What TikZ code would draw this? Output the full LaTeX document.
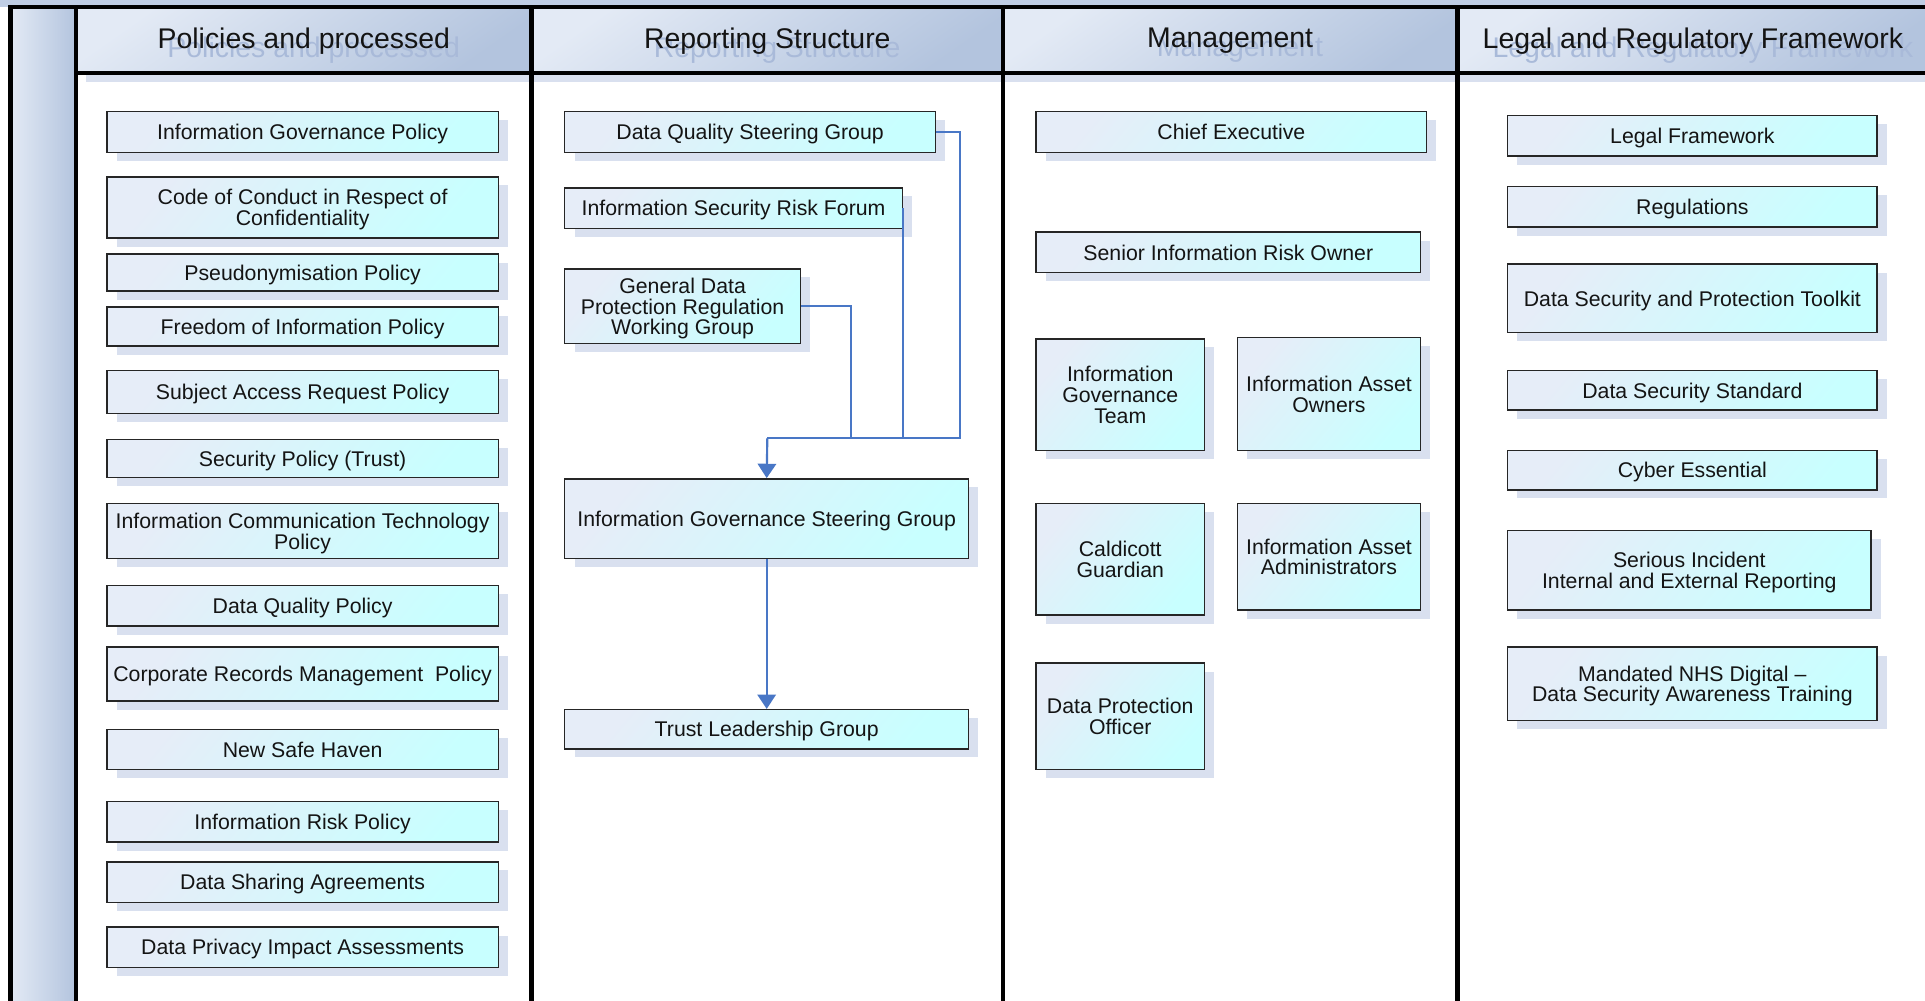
\documentclass[tikz,border=0pt]{standalone}
\usepackage{fontspec}
\setmainfont{Liberation Sans}
\usetikzlibrary{arrows.meta,shadows}

\definecolor{topband}{HTML}{BFCDE4}
\definecolor{hdrlight}{HTML}{E3EAF5}
\definecolor{hdrdark}{HTML}{B3C4DE}
\definecolor{ghost}{HTML}{A9BAD9}
\definecolor{shadowc}{HTML}{D9E0EF}
\definecolor{boxlight}{HTML}{E6EDF8}
\definecolor{boxcyan}{HTML}{C8FFFF}
\definecolor{boxline}{HTML}{262626}
\definecolor{connblue}{HTML}{4977C6}
\definecolor{inktext}{HTML}{141414}

\tikzset{
  softshadow/.style={drop shadow={shadow xshift=4.8pt,shadow yshift=-4.2pt,fill=shadowc,opacity=1}},
  hdrfill/.style={top color=hdrlight,bottom color=hdrdark,shading angle=35},
  hdrtxt/.style={font=\fontsize{13.9}{15}\selectfont,text=inktext,inner sep=0pt},
  ghosttxt/.style={hdrtxt,text=ghost},
  pbox/.style={draw=boxline,line width=0.7pt,top color=boxlight,bottom color=boxcyan,
    shading angle=50,softshadow,align=center,inner sep=0pt,text=inktext,text depth=0pt,
    font=\fontsize{10.4}{10.1}\selectfont},
  rule/.style={line width=2.2pt,black},
  conn/.style={draw=connblue,line width=1.05pt},
  flow/.style={conn,-{Triangle[width=9pt,length=7pt]}}
}

% box helper: name, left, top, right, bottom, text
\newcommand\pbox[6]{%
  \node[pbox,minimum width={(#4-#2)*0.6pt},minimum height={(#5-#3)*0.6pt}]
    (#1) at ({(#2+#4)/2},{(#3+#5)/2}) {#6};}

\begin{document}
\begin{tikzpicture}[x=0.6pt,y=-0.6pt]
\useasboundingbox (0,0) rectangle (1568,815);

% page background and frame fills
\fill[white] (0,0) rectangle (1568,815);
\fill[topband] (0,0) rectangle (1568,5.5);
\shade[left color=hdrlight,right color=hdrdark] (8.5,5.5) rectangle (62,815);

% lane headers
\shade[hdrfill,softshadow] (62,5.5) rectangle (433,59.5);
\shade[hdrfill,softshadow] (433,5.5) rectangle (817,59.5);
\shade[hdrfill,softshadow] (817,5.5) rectangle (1187,59.5);
\shade[hdrfill,softshadow] (1187,5.5) rectangle (1571,59.5);

\node[ghosttxt] at (255.5,40.5) {Policies and processed};
\node[ghosttxt] at (633,40.5) {Reporting Structure};
\node[ghosttxt] at (1010,40.5) {Management};
\node[ghosttxt] at (1387,40.5) {Legal and Regulatory Framework};
\node[hdrtxt] (h1) at (247.5,33.5) {Policies and processed};
\node[hdrtxt] (h2) at (625,33.5) {Reporting Structure};
\node[hdrtxt] (h3) at (1002,33.5) {Management};
\node[hdrtxt] (h4) at (1379,33.5) {Legal and Regulatory Framework};

% frame rules
\draw[rule] (8.5,815) -- (8.5,5.5) -- (1568,5.5);
\draw[rule] (62,59.5) -- (1568,59.5);
\foreach \lx in {62,433,817,1187} \draw[rule] (\lx,5.5) -- (\lx,815);

% Policies and processed
\pbox{igp}{87}{91}{406}{124}{Information Governance Policy}
\pbox{coc}{87}{144}{406}{194}{Code of Conduct in Respect of\\Confidentiality}
\pbox{pseu}{87}{207}{406}{237}{Pseudonymisation Policy}
\pbox{foi}{87}{250}{406}{282}{Freedom of Information Policy}
\pbox{sar}{87}{302}{406}{337}{Subject Access Request Policy}
\pbox{secp}{87}{358}{406}{389}{Security Policy (Trust)}
\pbox{ict}{87}{410}{406}{455}{Information Communication Technology\\Policy}
\pbox{dqp}{87}{477}{406}{510}{Data Quality Policy}
\pbox{crm}{87}{527}{406}{571}{Corporate Records Management\ \ Policy}
\pbox{nsh}{87}{594}{406}{627}{New Safe Haven}
\pbox{irp}{87}{653}{406}{686}{Information Risk Policy}
\pbox{dsa}{87}{702}{406}{735}{Data Sharing Agreements}
\pbox{dpia}{87}{755}{406}{788}{Data Privacy Impact Assessments}

% Reporting Structure
\pbox{dqsg}{460}{91}{762}{124}{Data Quality Steering Group}
\pbox{isrf}{460}{153}{735}{186}{Information Security Risk Forum}
\pbox{gdpr}{460}{219}{652}{280}{General Data\\Protection Regulation\\Working Group}
\pbox{igsg}{460}{390}{789}{455}{Information Governance Steering Group}
\pbox{tlg}{460}{578}{789}{610}{Trust Leadership Group}

% Management
\pbox{ceo}{844}{91}{1162}{124}{Chief Executive}
\pbox{siro}{844}{189}{1157}{222}{Senior Information Risk Owner}
\pbox{igt}{844}{276}{981}{367}{Information\\Governance\\Team}
\pbox{iao}{1008}{275}{1157}{367}{Information Asset\\Owners}
\pbox{cg}{844}{410}{981}{501}{Caldicott\\Guardian}
\pbox{iaa}{1008}{410}{1157}{497}{Information Asset\\Administrators}
\pbox{dpo}{844}{540}{981}{627}{Data Protection\\Officer}

% Legal and Regulatory Framework
\pbox{lf}{1228}{94}{1529}{127}{Legal Framework}
\pbox{regs}{1228}{152}{1529}{185}{Regulations}
\pbox{dspt}{1228}{215}{1529}{271}{Data Security and Protection Toolkit}
\pbox{dss}{1228}{302}{1529}{334}{Data Security Standard}
\pbox{cyber}{1228}{367}{1529}{399}{Cyber Essential}
\pbox{sirep}{1228}{432}{1524}{497}{Serious Incident\\Internal and External Reporting}
\pbox{nhsd}{1228}{527}{1529}{587}{Mandated NHS Digital --\\Data Security Awareness Training}

% reporting lines into the steering group
\coordinate (join) at (625,357);
\coordinate (joinR) at (782,357);
\coordinate (joinG) at (693,357);
\draw[conn] (dqsg.east) -| (joinR) -- (join);
\draw[conn] (isrf.east) -- (isrf.east |- join);
\draw[conn] (gdpr.east) -| (joinG);
\draw[flow] (join) -- (igsg.north);
\draw[flow] (igsg.south) -- (tlg.north);
\end{tikzpicture}
\end{document}
